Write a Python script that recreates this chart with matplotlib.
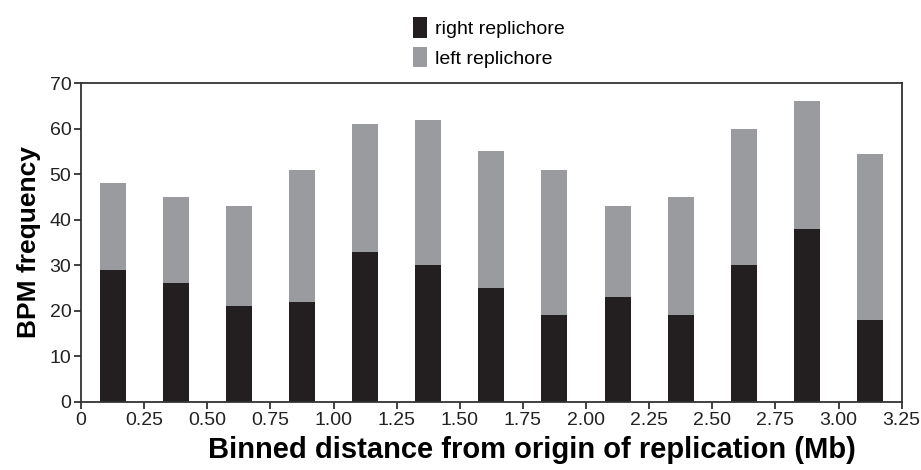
import matplotlib
matplotlib.use("Agg")
import matplotlib.pyplot as plt
import numpy as np

bin_centers = [0.125, 0.375, 0.625, 0.875, 1.125, 1.375, 1.625, 1.875, 2.125, 2.375, 2.625, 2.875, 3.125]
right_replichore = [29, 26, 21, 22, 33, 30, 25, 19, 23, 19, 30, 38, 18]
totals = [48, 45, 43, 51, 61, 62, 55, 51, 43, 45, 60, 66, 54.5]
left_replichore = [t - r for t, r in zip(totals, right_replichore)]
xtick_values = [0, 0.25, 0.5, 0.75, 1.0, 1.25, 1.5, 1.75, 2.0, 2.25, 2.5, 2.75, 3.0, 3.25]
xtick_labels = ["0", "0.25", "0.50", "0.75", "1.00", "1.25", "1.50", "1.75", "2.00",
                "2.25", "2.50", "2.75", "3.00", "3.25"]
ytick_values = [0, 10, 20, 30, 40, 50, 60, 70]

plt.rcParams['font.family'] = ['Liberation Sans', 'DejaVu Sans']

fig = plt.figure(figsize=(9.21, 4.70), dpi=100)
ax = fig.add_axes([0.088, 0.145, 0.891, 0.678])

black = '#231f20'
grey = '#9a9b9f'
w = 0.103
ax.bar(bin_centers, right_replichore, width=w, color=black, label='right replichore')
ax.bar(bin_centers, left_replichore, width=w, bottom=right_replichore, color=grey,
       label='left replichore')

ax.set_xlim(0, 3.25)
ax.set_ylim(0, 70)
ax.set_xticks(xtick_values)
ax.set_xticklabels(xtick_labels)
ax.set_yticks(ytick_values)
for s in ax.spines.values():
    s.set_color('#333333')
    s.set_linewidth(1.3)
ax.tick_params(axis='both', direction='out', length=5, width=1.3, color='#333333',
               labelsize=14, labelcolor='#222222', pad=2)

ax.set_xlabel('Binned distance from origin of replication (Mb)', fontsize=21,
              fontweight='bold', labelpad=5)
ax.xaxis.label.set_x(0.55)
ax.set_ylabel('BPM frequency', fontsize=19, fontweight='bold', labelpad=6)

leg = fig.legend(loc='upper left', bbox_to_anchor=(0.44, 0.98), frameon=False,
                 fontsize=14, handlelength=0.7, handleheight=1.25, handletextpad=0.45,
                 labelspacing=0.45, borderaxespad=0)

fig.savefig('out.png', dpi=100)
